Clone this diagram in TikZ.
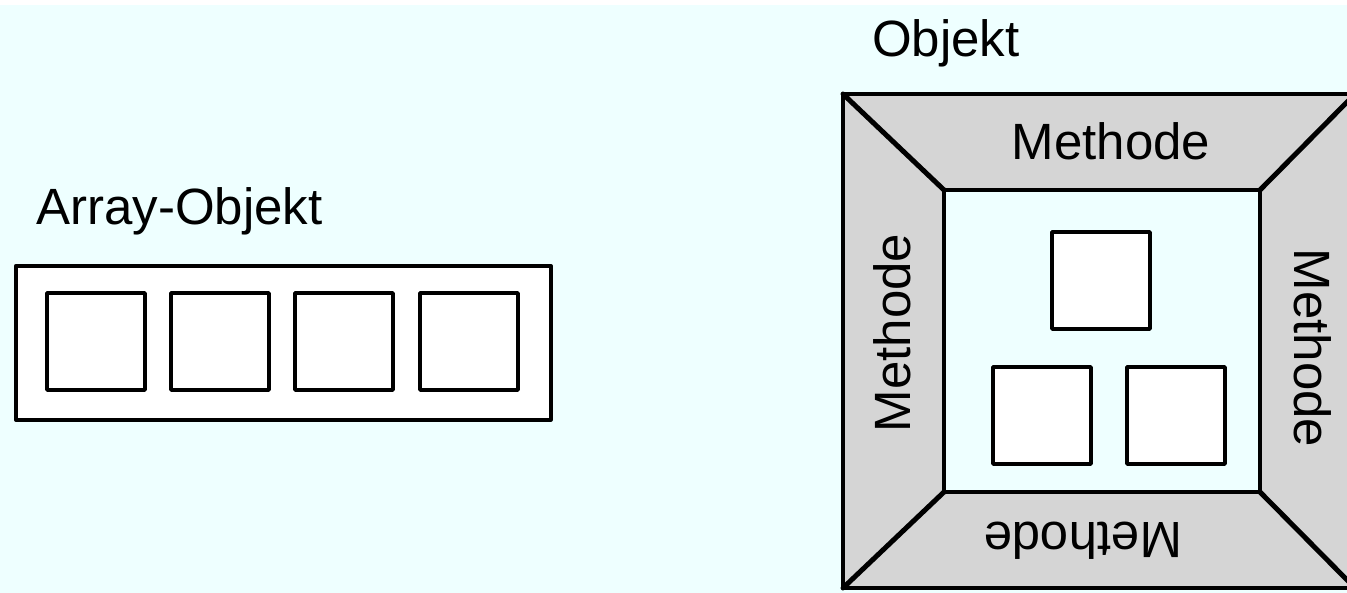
\documentclass[tikz,border=0pt]{standalone}
\usepackage{fontspec}
\setmainfont{Liberation Sans}
\begin{document}
\begin{tikzpicture}[x=1pt,y=-1pt,
  line join=round,
  box/.style={draw=black,line width=3.6pt,fill=white,inner sep=0pt,outer sep=0pt,minimum width=98pt,minimum height=97pt,anchor=north west},
  lbl/.style={font=\fontsize{51}{52}\selectfont,inner sep=0pt,text height=36pt,text depth=0pt},
  diag/.style={line width=5pt,line cap=round}]
\definecolor{bgc}{RGB}{238,255,255}
\definecolor{grayc}{RGB}{213,213,213}
\useasboundingbox (0,0) rectangle (1347,593);
\clip (0,0) rectangle (1347,593);
\fill[white] (0,0) rectangle (1347,593);
\fill[bgc] (0,5) rectangle (1347,593);
% Array-Objekt
\node[lbl,anchor=south west] (alabel) at (36,225) {Array-Objekt};
\node[draw=black,line width=3.6pt,fill=white,inner sep=0pt,minimum width=535pt,minimum height=154pt,anchor=north west] (arr) at (14,264) {};
\node[box] (a1) at (47,293) {};
\node[box] (a2) at (171,293) {};
\node[box] (a3) at (295,293) {};
\node[box] (a4) at (420,293) {};
% Objekt
\node[lbl,anchor=south west] (olabel) at (872,57) {Objekt};
\coordinate (o1) at (843,94);
\coordinate (o2) at (1355,94);
\coordinate (o3) at (1355,588);
\coordinate (o4) at (843,588);
\coordinate (i1) at (944,190);
\coordinate (i2) at (1260,190);
\coordinate (i3) at (1260,492);
\coordinate (i4) at (944,492);
\draw[line width=3.6pt,fill=grayc] (o1) -- (o2) -- (o3) -- (o4) -- cycle;
\draw[line width=3.6pt,fill=bgc] (i1) -- (i2) -- (i3) -- (i4) -- cycle;
\draw[diag] (o1) -- (i1);
\draw[diag] (o2) -- (i2);
\draw[diag] (o3) -- (i3);
\draw[diag] (o4) -- (i4);
\node[lbl] (mtop) at (1111,142) {Methode};
\node[lbl,rotate=180] (mbot) at (1083,540) {Methode};
\node[lbl,rotate=90] (mleft) at (892,333) {Methode};
\node[lbl,rotate=-90] (mright) at (1312,348) {Methode};
\node[box] (b1) at (1052,232) {};
\node[box] (b2) at (993,367) {};
\node[box] (b3) at (1127,367) {};
\end{tikzpicture}
\end{document}
